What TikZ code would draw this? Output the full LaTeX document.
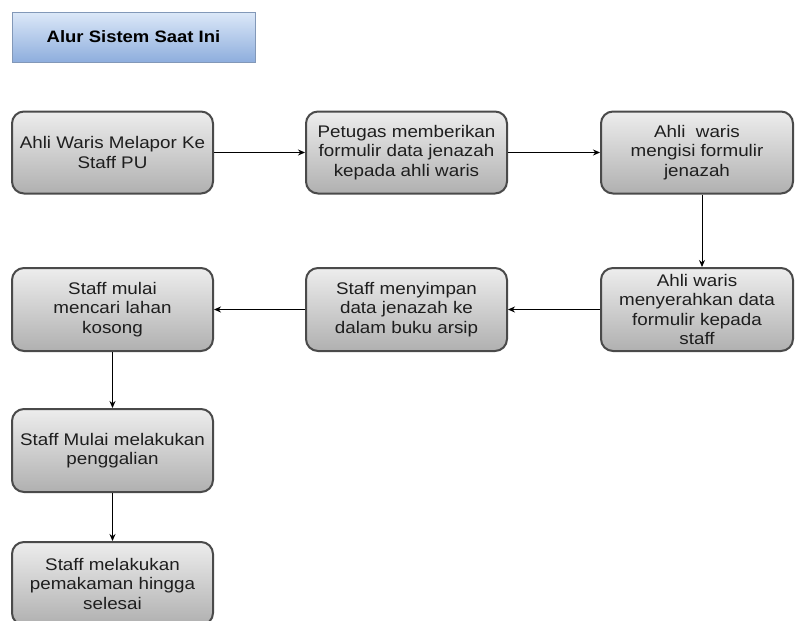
\documentclass[tikz,border=0pt]{standalone}
\usepackage{fontspec}
\setmainfont{Liberation Sans}[FakeStretch=1.12]
\usetikzlibrary{arrows.meta}
\definecolor{boxline}{HTML}{4A4A4A}
\definecolor{boxtop}{HTML}{EDEDED}
\definecolor{boxbottom}{HTML}{B0B0B0}
\definecolor{titletop}{HTML}{DCE8F8}
\definecolor{titlebottom}{HTML}{8EAEDD}
\definecolor{titleline}{HTML}{8298B8}
\definecolor{txt}{HTML}{1E1E1E}
\tikzset{
  stepbox/.style={rectangle, rounded corners=12pt, draw=boxline, line width=2pt,
    top color=boxtop, bottom color=boxbottom, minimum height=82pt,
    align=center, text=txt, inner sep=1pt,
    font=\fontsize{16.8}{19.5}\selectfont},
  titlebox/.style={rectangle, draw=titleline, line width=0.8pt,
    top color=titletop, bottom color=titlebottom,
    minimum width=243pt, minimum height=50pt,
    font=\fontsize{16.5}{19}\selectfont\bfseries},
  flow/.style={-{Stealth[length=7pt,width=6pt]}, line width=0.9pt, black}
}
\begin{document}
\begin{tikzpicture}[x=1pt,y=-1pt]
\useasboundingbox (0,0) rectangle (795,621);
\clip (0,0) rectangle (795,621);

\node[titlebox] (title) at (133.5,37) {Alur Sistem Saat Ini};

% first row
\node[stepbox, minimum width=201pt] (a) at (112.5,152.5) {Ahli Waris Melapor Ke\\Staff PU};
\node[stepbox, minimum width=201pt] (b) at (406.5,152.5) {Petugas memberikan\\formulir data jenazah\\kepada ahli waris};
\node[stepbox, minimum width=192pt] (c) at (697,152.5) {Ahli\ \ waris\\mengisi formulir\\jenazah};

% second row
\node[stepbox, minimum width=201pt, minimum height=83pt] (d) at (112.5,309.5) {Staff mulai\\mencari lahan\\kosong};
\node[stepbox, minimum width=201pt, minimum height=83pt] (e) at (406.5,309.5) {Staff menyimpan\\data jenazah ke\\dalam buku arsip};
\node[stepbox, minimum width=192pt, minimum height=83pt] (f) at (697,309.5) {Ahli waris\\menyerahkan data\\formulir kepada\\staff};

% left column
\node[stepbox, minimum width=201pt, minimum height=83pt] (g) at (112.5,450.5) {Staff Mulai melakukan\\penggalian};
\node[stepbox, minimum width=201pt, minimum height=83pt] (h) at (112.5,583.5) {Staff melakukan\\pemakaman hingga\\selesai};

% connectors
\draw[flow] (a) -- (b);
\draw[flow] (b) -- (c);
\draw[flow] ([xshift=5pt]c.south) -- ([xshift=5pt]f.north);
\draw[flow] (f) -- (e);
\draw[flow] (e) -- (d);
\draw[flow] (d) -- (g);
\draw[flow] (g) -- (h);
\end{tikzpicture}
\end{document}
